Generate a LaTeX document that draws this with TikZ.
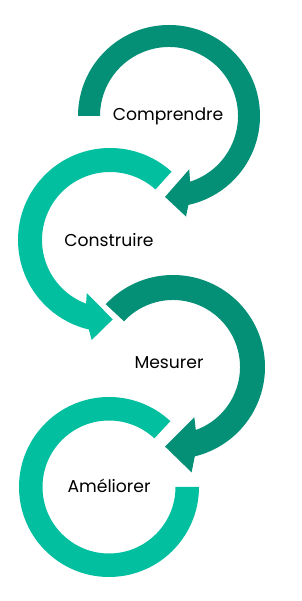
\documentclass[tikz,border=0pt]{standalone}
\usepackage{fontspec}
\setmainfont{Poppins}
\usepackage{tikz}
\definecolor{vertfonce}{RGB}{4,143,119}
\definecolor{vertclair}{RGB}{2,191,160}

\begin{document}
\begin{tikzpicture}[x=1pt,y=1pt,font=\fontsize{17.2}{20}\selectfont,
  etape/.style={text=black,inner sep=0pt}]
\useasboundingbox (0,0) rectangle (301,601);
% Comprendre
\begin{scope}[shift={(169,485)}]
\fill[vertfonce] (180:91) arc[start angle=180,end angle=-77.7,radius=91]
  -- (-80.4:102) -- (-92.8:81) -- (-69.2:57) -- (-72.2:69)
  arc[start angle=-72.2,end angle=180,radius=69] -- cycle;
\end{scope}
% Construire
\begin{scope}[shift={(110,361)}]
\fill[vertclair] (48:92) arc[start angle=48,end angle=256.7,radius=92]
  -- (259.6:101.7) -- (272:79.4) -- (246.4:58) -- (249.4:68)
  arc[start angle=249.4,end angle=48,radius=68] -- cycle;
\end{scope}
% Mesurer
\begin{scope}[shift={(173,234)}]
\fill[vertfonce] (137:92) arc[start angle=137,end angle=-76.3,radius=92]
  -- (-80:107) -- (-95.7:80) -- (-67:54.6) -- (-70.1:67)
  arc[start angle=-70.1,end angle=137,radius=67] -- cycle;
\end{scope}
% Ameliorer
\begin{scope}[shift={(109,114)}]
\fill[vertclair] (47:90) arc[start angle=47,end angle=360,radius=90]
  -- (0:66.5) arc[start angle=360,end angle=47,radius=66.5] -- cycle;
\end{scope}

\node[etape] (comprendre) at (168,485) {Comprendre};
\node[etape] (construire) at (109,361) {Construire};
\node[etape] (mesurer) at (169,238) {Mesurer};
\node[etape] (ameliorer) at (109,115) {Améliorer};
\end{tikzpicture}
\end{document}
